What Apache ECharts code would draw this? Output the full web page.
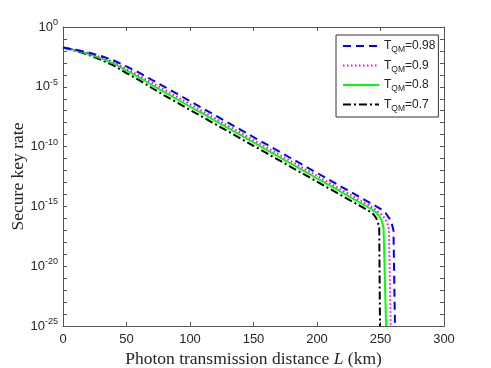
<!DOCTYPE html>
<html>
<head>
<meta charset="utf-8">
<script src="https://cdn.jsdelivr.net/npm/echarts@6/dist/echarts.min.js"></script>
<style>html,body{margin:0;padding:0;background:#fff}#c{width:491px;height:368px}#err{position:absolute;left:0;top:0;font:10px monospace;color:red}</style>
</head>
<body>
<div id="c"></div>
<div id="err"></div>
<script>
// Distances (km) and log10 of secure key rate for each curve
const seriesNames = ['T_QM=0.98', 'T_QM=0.9', 'T_QM=0.8', 'T_QM=0.7'];
const baseL = [0,10,20,30,40,50,60,70,80,90,100,110,120,130,140,150,160,170,180,190,200,210,220,230,240];

const L_098 = baseL.concat([250,254,257,259,260.2,261.4]);
const E_098 = [-1.72,-1.9,-2.13,-2.42,-2.8,-3.3,-3.82,-4.42,-5.0,-5.6,-6.2,-6.8,-7.4,-8.0,-8.6,-9.2,-9.8,-10.4,-11.0,-11.6,-12.2,-12.8,-13.4,-14.0,-14.6,
               -15.2,-15.55,-16.0,-16.5,-17.0,-25];

const L_09 = baseL.concat([246,250,253,255.2,256.6,258]);
const E_09 = [-1.72,-1.92,-2.18,-2.52,-2.93,-3.5,-4.05,-4.66,-5.25,-5.85,-6.45,-7.05,-7.65,-8.25,-8.85,-9.45,-10.05,-10.65,-11.25,-11.85,-12.45,-13.05,-13.65,-14.25,-14.85,
              -15.25,-15.6,-15.95,-16.35,-16.9,-25];

const L_08 = baseL.concat([246,249,251,252.4,254.4]);
const E_08 = [-1.72,-1.95,-2.25,-2.62,-3.05,-3.65,-4.22,-4.85,-5.45,-6.05,-6.65,-7.25,-7.85,-8.45,-9.05,-9.65,-10.25,-10.85,-11.45,-12.05,-12.65,-13.25,-13.85,-14.45,-15.05,
              -15.45,-15.8,-16.2,-16.8,-25];

const L_07 = baseL.concat([244,246.5,248,249,249.6]);
const E_07 = [-1.72,-1.98,-2.33,-2.75,-3.22,-3.85,-4.45,-5.1,-5.73,-6.33,-6.93,-7.53,-8.13,-8.73,-9.33,-9.93,-10.53,-11.13,-11.73,-12.33,-12.93,-13.53,-14.13,-14.73,-15.33,
              -15.6,-15.95,-16.35,-16.8,-25];

const xTicks = [0,50,100,150,200,250,300];
const yTickExps = [0,-5,-10,-15,-20,-25];

function pairs(Ls, Es){ return Ls.map((l,i)=>[l, Math.pow(10, Es[i])]); }

try {
const chart = echarts.init(document.getElementById('c'), null, {renderer:'canvas'});
const axisColor = '#555';
const labelFont = '"Liberation Sans", Arial, sans-serif';
const serif = '"Liberation Serif", "Times New Roman", serif';
const minExp = yTickExps[yTickExps.length-1];
const maxExp = yTickExps[0];

const xCommon = {
  type:'value', min:xTicks[0], max:xTicks[xTicks.length-1], interval:50,
  axisLine:{show:true, onZero:false, lineStyle:{color:axisColor, width:1}},
  axisTick:{show:true, inside:true, length:4, lineStyle:{color:axisColor}},
  splitLine:{show:false}
};
const yCommon = {
  type:'log', logBase:10, min:Math.pow(10, minExp), max:Math.pow(10, maxExp),
  interval:1,
  axisLine:{show:true, onZero:false, lineStyle:{color:axisColor, width:1}},
  axisTick:{show:true, inside:true, length:4, lineStyle:{color:axisColor}},
  axisLabel:{show:false},
  splitLine:{show:false}
};

chart.setOption({
  animation:false,
  backgroundColor:'#fff',
  grid:{left:63, right:47, top:27, bottom:42, containLabel:false, outerBoundsMode:'none'},
  xAxis:[
    Object.assign({}, xCommon, {
      position:'bottom',
      axisLabel:{show:true, margin:7, color:'#262626', fontSize:13, fontFamily:labelFont, showMinLabel:true, showMaxLabel:true},
      name:'{a|Photon transmission distance }{i|L}{a| (km)}',
      nameLocation:'middle', nameGap:24, nameMoveOverlap:false,
      nameTextStyle:{rich:{
        a:{fontFamily:serif, fontSize:17.5, color:'#262626'},
        i:{fontFamily:serif, fontSize:17.5, fontStyle:'italic', color:'#262626'}
      }}
    }),
    Object.assign({}, xCommon, {position:'top', axisLabel:{show:false}})
  ],
  yAxis:[
    Object.assign({}, yCommon, {
      position:'left',
      name:'Secure key rate', nameLocation:'middle', nameGap:36, nameRotate:90, nameMoveOverlap:false,
      nameTextStyle:{fontFamily:serif, fontSize:17.5, color:'#262626'}
    }),
    Object.assign({}, yCommon, {position:'right'}),
    {
      // exponent axis carrying the 10^n tick labels, aligned with the log axis
      type:'value', position:'left', min:minExp, max:maxExp, interval:5,
      axisLine:{show:false}, axisTick:{show:false}, splitLine:{show:false},
      axisLabel:{show:true, margin:5, color:'#262626', fontFamily:labelFont, showMinLabel:true, showMaxLabel:true, hideOverlap:false,
        formatter:function(v){ return '{b|10}{p|' + Math.round(v) + '}'; },
        rich:{
          b:{fontSize:13, fontFamily:labelFont, color:'#262626'},
          p:{fontSize:9, fontFamily:labelFont, color:'#262626', padding:[0,0,9,0]}
        }
      }
    }
  ],
  legend:{
    orient:'vertical', left:336, top:35,
    padding:[5,3,4,6], itemGap:5,
    borderColor:'#333', borderWidth:1, backgroundColor:'#fff',
    itemWidth:36, itemHeight:15,
    itemStyle:{opacity:0},
    data:seriesNames,
    formatter:function(name){
      const v = name.split('=')[1];
      return '{t|T}{s|QM}{t|=' + v + '}';
    },
    textStyle:{
      rich:{
        t:{fontSize:12, fontFamily:labelFont, color:'#262626'},
        s:{fontSize:8.5, fontFamily:labelFont, color:'#262626', padding:[8,0,0,0]}
      }
    }
  },
  series:[
    {name:seriesNames[0], type:'line', showSymbol:false, symbol:'none', data:pairs(L_098,E_098),
     lineStyle:{color:'#0000ff', width:2, type:[8,5]}, itemStyle:{color:'#0000ff'}, z:5},
    {name:seriesNames[1], type:'line', showSymbol:false, symbol:'none', data:pairs(L_09,E_09),
     lineStyle:{color:'#ff00ff', width:2, type:[1.5,2.5]}, itemStyle:{color:'#ff00ff'}, z:4},
    {name:seriesNames[2], type:'line', showSymbol:false, symbol:'none', data:pairs(L_08,E_08),
     lineStyle:{color:'#00ff00', width:2, type:'solid'}, itemStyle:{color:'#00ff00'}, z:3},
    {name:seriesNames[3], type:'line', showSymbol:false, symbol:'none', data:pairs(L_07,E_07),
     lineStyle:{color:'#000000', width:2, type:[8,3,2,3]}, itemStyle:{color:'#000000'}, z:2}
  ]
});
} catch(e) { document.getElementById('err').textContent = String(e && e.stack || e); }
</script>
</body>
</html>
